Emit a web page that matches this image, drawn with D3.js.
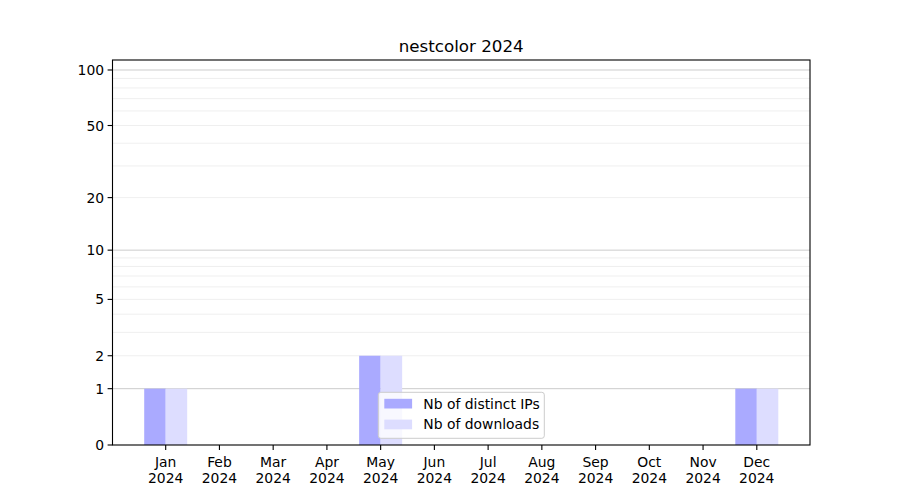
<!DOCTYPE html>
<html>
<head>
<meta charset="utf-8">
<script src="https://cdn.jsdelivr.net/npm/d3@7"></script>
<style>
body{margin:0;background:#fff;}
text{font-family:"DejaVu Sans",sans-serif;fill:#000;}
</style>
</head>
<body>
<svg id="chart" width="900" height="500"></svg>
<script>
const months = ["Jan","Feb","Mar","Apr","May","Jun","Jul","Aug","Sep","Oct","Nov","Dec"];
const year = "2024";
const distinctIPs = [1,0,0,0,2,0,0,0,0,0,0,1];
const downloads   = [1,0,0,0,2,0,0,0,0,0,0,1];
const yTicks = [0,1,2,5,10,20,50,100];
const yMajorGrid = [1,10,100];
const yMinorGrid = [2,3,4,5,6,7,8,9,20,30,40,50,60,70,80,90];
const title = "nestcolor 2024";
const seriesNames = ["Nb of distinct IPs","Nb of downloads"];
const colors = ["#aaaaff","#ddddff"];

const W=900,H=500;
const L=112.5,R=810,T=60,B=445;
const svg=d3.select("#chart");
const fs=13.9;

const barW=0.4;
const x=d3.scaleLinear().domain([-0.99,11.99]).range([L,R]);
const yTop=Math.pow(10,2.0577)-1;
const y=d3.scaleSymlog().constant(1).domain([0,yTop]).range([B,T]);

// grid
const g=svg.append("g");
g.selectAll("line.minor").data(yMinorGrid).join("line")
 .attr("x1",L).attr("x2",R).attr("y1",d=>y(d)).attr("y2",d=>y(d))
 .attr("stroke","#ebebeb").attr("stroke-width",0.8);
g.selectAll("line.major").data(yMajorGrid).join("line")
 .attr("x1",L).attr("x2",R).attr("y1",d=>y(d)).attr("y2",d=>y(d))
 .attr("stroke","#cccccc").attr("stroke-width",1);

// bars
const idx=d3.range(months.length);
svg.append("g").selectAll("rect").data(idx.filter(i=>distinctIPs[i]>0)).join("rect")
 .attr("x",i=>x(i-barW)).attr("width",i=>x(i)-x(i-barW))
 .attr("y",i=>y(distinctIPs[i])).attr("height",i=>y(0)-y(distinctIPs[i]))
 .attr("fill",colors[0]);
svg.append("g").selectAll("rect").data(idx.filter(i=>downloads[i]>0)).join("rect")
 .attr("x",i=>x(i)).attr("width",i=>x(i+barW)-x(i))
 .attr("y",i=>y(downloads[i])).attr("height",i=>y(0)-y(downloads[i]))
 .attr("fill",colors[1]);

// spines
svg.append("rect").attr("x",L).attr("y",T).attr("width",R-L).attr("height",B-T)
 .attr("fill","none").attr("stroke","#000").attr("stroke-width",1.1);

// y axis
const ya=svg.append("g");
yTicks.forEach(t=>{
  const yy=y(t);
  ya.append("line").attr("x1",L-4.9).attr("x2",L).attr("y1",yy).attr("y2",yy).attr("stroke","#000").attr("stroke-width",1.1);
  ya.append("text").attr("x",L-8.4).attr("y",yy).attr("dy","0.36em").attr("text-anchor","end").attr("font-size",fs).text(t);
});

// x axis
const xa=svg.append("g");
months.forEach((m,i)=>{
  const xx=x(i);
  xa.append("line").attr("x1",xx).attr("x2",xx).attr("y1",B).attr("y2",B+4.9).attr("stroke","#000").attr("stroke-width",1.1);
  xa.append("text").attr("x",xx).attr("y",466.5).attr("text-anchor","middle").attr("font-size",fs).text(m);
  xa.append("text").attr("x",xx).attr("y",482.8).attr("text-anchor","middle").attr("font-size",fs).text(year);
});

// title
svg.append("text").attr("x",(L+R)/2).attr("y",51.5).attr("text-anchor","middle").attr("font-size",16.7).text(title);

// legend
const lg=svg.append("g");
const lx=378.3, ly=392.3, lw=166, lh=46;
lg.append("rect").attr("x",lx).attr("y",ly).attr("width",lw).attr("height",lh).attr("rx",2.5)
 .attr("fill","#fff").attr("fill-opacity",0.8).attr("stroke","#cccccc").attr("stroke-width",1);
seriesNames.forEach((n,k)=>{
  const ry=ly+6.5+k*20.8;
  lg.append("rect").attr("x",lx+6).attr("y",ry).attr("width",27.8).attr("height",9.7).attr("fill",colors[k]);
  lg.append("text").attr("x",lx+45).attr("y",ry+9.7).attr("font-size",fs).text(n);
});
</script>
</body>
</html>
